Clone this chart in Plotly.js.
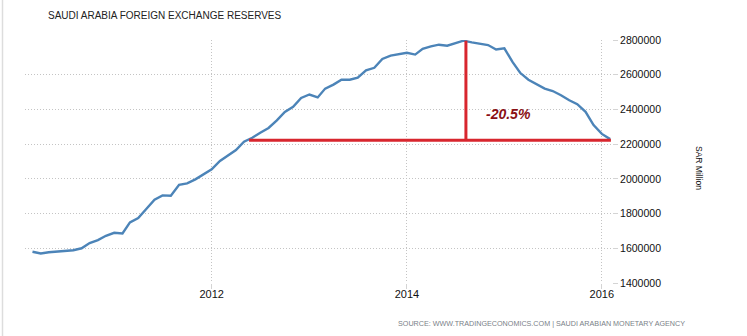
<!DOCTYPE html>
<html>
<head>
<meta charset="utf-8">
<script src="https://cdn.plot.ly/plotly-3.0.1.min.js"></script>
<style>
  html, body { margin: 0; padding: 0; background: #fff; }
  #chart { width: 747px; height: 336px; }
</style>
</head>
<body>
<div id="chart"></div>
<script>
// Monthly observations (SAR million)
const months = [
  '2010-03-01','2010-04-01','2010-05-01','2010-06-01','2010-07-01','2010-08-01','2010-09-01','2010-10-01','2010-11-01','2010-12-01',
  '2011-01-01','2011-02-01','2011-03-01','2011-04-01','2011-05-01','2011-06-01','2011-07-01','2011-08-01','2011-09-01','2011-10-01','2011-11-01','2011-12-01',
  '2012-01-01','2012-02-01','2012-03-01','2012-04-01','2012-05-01','2012-06-01','2012-07-01','2012-08-01','2012-09-01','2012-10-01','2012-11-01','2012-12-01',
  '2013-01-01','2013-02-01','2013-03-01','2013-04-01','2013-05-01','2013-06-01','2013-07-01','2013-08-01','2013-09-01','2013-10-01','2013-11-01','2013-12-01',
  '2014-01-01','2014-02-01','2014-03-01','2014-04-01','2014-05-01','2014-06-01','2014-07-01','2014-08-01','2014-09-01','2014-10-01','2014-11-01','2014-12-01',
  '2015-01-01','2015-02-01','2015-03-01','2015-04-01','2015-05-01','2015-06-01','2015-07-01','2015-08-01','2015-09-01','2015-10-01','2015-11-01','2015-12-01',
  '2016-01-01','2016-02-01'
];
const reserves = [
  1580000,1570000,1577000,1580000,1585000,1589000,1600000,1630000,1647000,1672000,
  1689000,1685000,1749000,1774000,1826000,1880000,1905000,1903000,1966000,1974000,1997000,2028000,
  2055000,2103000,2132000,2166000,2214000,2237000,2266000,2293000,2337000,2386000,2415000,2466000,
  2486000,2469000,2520000,2543000,2571000,2571000,2583000,2625000,2640000,2691000,2710000,2720000,
  2726000,2716000,2749000,2763000,2773000,2767000,2781000,2796000,2786000,2777000,2771000,2745000,
  2752000,2672000,2611000,2571000,2545000,2520000,2506000,2482000,2453000,2430000,2386000,2310000,
  2259000,2229000
];

// Axis ticks
const xTickVals = ['2012-01-01','2014-01-01','2016-01-01'];
const xTickText = ['2012','2014','2016'];
const yTickVals = [1400000,1600000,1800000,2000000,2200000,2400000,2600000,2800000];

// Drawdown annotation
const peakLineDate = '2014-08-10';
const peakValue = 2796000;
const troughValue = 2223000;
const lineStartDate = '2012-05-20';
const lineEndDate = '2016-02-04';
const dropLabel = '-20.5%';
const dropLabelPos = ['2015-01-15', 2375000];

const trace = {
  x: months, y: reserves, type: 'scatter', mode: 'lines',
  line: { color: '#4c84b8', width: 2.4 },
  hoverinfo: 'skip', cliponaxis: false
};

const red = '#d8262e';
const font = 'Liberation Sans, Arial, sans-serif';
const layout = {
  width: 747, height: 336,
  margin: { l: 25, r: 135, t: 40, b: 53 },
  paper_bgcolor: '#ffffff', plot_bgcolor: '#ffffff',
  showlegend: false,
  title: {
    text: 'SAUDI ARABIA FOREIGN EXCHANGE RESERVES',
    font: { family: font, size: 10, color: '#222' },
    xref: 'container', yref: 'container',
    x: 48/747, xanchor: 'left', y: 1 - 15/336, yanchor: 'middle'
  },
  xaxis: {
    type: 'date', range: ['2010-02-01', '2016-02-08'],
    tickvals: xTickVals, ticktext: xTickText,
    showgrid: true, gridcolor: '#c4c4c4', griddash: '1px,2px', gridwidth: 1,
    ticks: 'outside', ticklen: 5, tickcolor: '#d4d4d4', tickwidth: 1,
    ticklabelstandoff: -4,
    showline: false, zeroline: false,
    tickfont: { family: font, size: 11, color: '#111' }
  },
  yaxis: {
    side: 'right', range: [1400000, 2800000],
    tickvals: yTickVals, tickformat: 'd',
    showgrid: true, gridcolor: '#c4c4c4', griddash: '1px,2px', gridwidth: 1,
    ticks: 'outside', ticklen: 5, tickcolor: '#d4d4d4', tickwidth: 1,
    showline: false, zeroline: false,
    tickfont: { family: font, size: 10.5, color: '#111' }
  },
  shapes: [
    { type: 'line', xref: 'paper', yref: 'paper',
      x0: (2.5-25)/587, x1: (2.5-25)/587, y0: 283/243, y1: (283-336)/243,
      line: { color: '#dddddd', width: 1.5 } },
    { type: 'line', xref: 'x', yref: 'y',
      x0: lineStartDate, x1: lineEndDate, y0: troughValue, y1: troughValue,
      line: { color: red, width: 3 } },
    { type: 'line', xref: 'x', yref: 'y',
      x0: peakLineDate, x1: peakLineDate, y0: troughValue, y1: peakValue,
      line: { color: red, width: 3 } }
  ],
  annotations: [
    { xref: 'x', yref: 'y', x: dropLabelPos[0], y: dropLabelPos[1],
      text: '<b><i>' + dropLabel + '</i></b>', showarrow: false,
      font: { family: font, size: 14, color: '#8a0f14' } },
    { xref: 'paper', yref: 'paper', x: (706-25)/587, y: (283-168)/243,
      text: 'SAR Million', textangle: 90, showarrow: false,
      font: { family: font, size: 8.5, color: '#111' } },
    { xref: 'paper', yref: 'paper', x: (687-25)/587, y: (283-323)/243,
      xanchor: 'right', yanchor: 'middle',
      text: 'SOURCE: WWW.TRADINGECONOMICS.COM | SAUDI ARABIAN MONETARY AGENCY', showarrow: false,
      font: { family: font, size: 7.2, color: '#7a7f88' } }
  ]
};

Plotly.newPlot('chart', [trace], layout, { staticPlot: true, displayModeBar: false });
</script>
</body>
</html>
